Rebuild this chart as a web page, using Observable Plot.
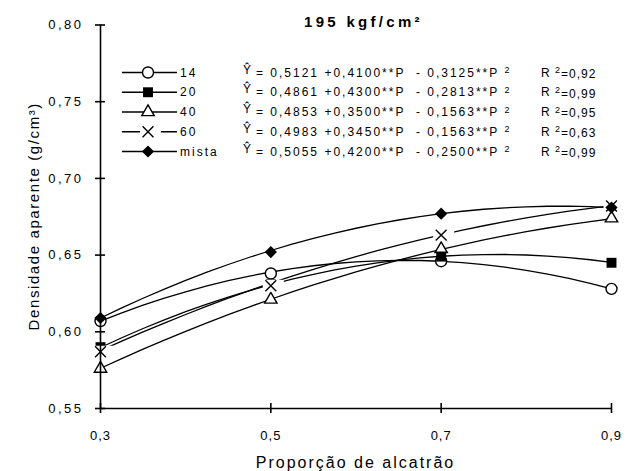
<!DOCTYPE html>
<html>
<head>
<meta charset="utf-8">
<script src="https://cdn.jsdelivr.net/npm/d3@7"></script>
<script src="https://cdn.jsdelivr.net/npm/@observablehq/plot@0.6"></script>
<style>
  body { margin: 0; background: #fff; }
  #chart svg { font-family: "Liberation Sans", Arial, sans-serif; }
  #chart svg [aria-label="y-axis tick label"] text { letter-spacing: 2.5px; }
  #chart svg [aria-label="x-axis tick label"] text { letter-spacing: 1px; }
</style>
</head>
<body>
<div id="chart"></div>
<script>
// Tar proportion (x) and the five binder groups
const proportions = [0.3, 0.5, 0.7, 0.9];
const groups = ["14", "20", "40", "60", "mista"];

// Apparent density (g/cm³) per group at each proportion
const dens14    = [0.607, 0.638, 0.646, 0.628];
const dens20    = [0.590, 0.631, 0.649, 0.645];
const dens40    = [0.576, 0.621, 0.654, 0.674];
const dens60    = [0.587, 0.630, 0.663, 0.682];
const densMista = [0.609, 0.652, 0.677, 0.681];

// Quadratic fits  Ŷ = b0 + b1·P − b2·P²  and their R²
const fitB0 = [0.5121, 0.4861, 0.4853, 0.4983, 0.5055];
const fitB1 = [0.4100, 0.4300, 0.3500, 0.3450, 0.4200];
const fitB2 = [0.3125, 0.2813, 0.1563, 0.1563, 0.2500];
const rSquared = [0.92, 0.99, 0.95, 0.63, 0.99];

// Axis ticks and texts
const xTicks = [0.3, 0.5, 0.7, 0.9];
const yTicks = [0.55, 0.60, 0.65, 0.70, 0.75, 0.80];
const titleText = "195 kgf/cm²";
const xLabel = "Proporção de alcatrão";
const yLabel = "Densidade aparente (g/cm³)";

const densities = [dens14, dens20, dens40, dens60, densMista];
const comma = (v, n) => v.toFixed(n).replace(".", ",");

// Observed points
const points = groups.flatMap((g, i) =>
  proportions.map((p, j) => ({group: g, p, d: densities[i][j]})));

// Fitted curves, traced from the printed equations
const curves = groups.flatMap((g, i) =>
  d3.range(0.3, 0.9001, 0.025).map(p =>
    ({group: g, p, d: fitB0[i] + fitB1[i] * p - fitB2[i] * p * p})));

const W = 644, H = 471;
const mL = 100, mR = 33, mT = 24.5, mB = 63;
const frameW = W - mL - mR, frameH = H - mT - mB;

// White patch drawn behind the "×" marker
const patch = {draw(ctx) { ctx.rect(-8, -6, 21, 12); }};

const markStyle = {
  "14":    {symbol: "circle",   r: 5.5, fill: "white", stroke: "black"},
  "20":    {symbol: "square",   r: 5.6, fill: "black", stroke: "none"},
  "40":    {symbol: "triangle", r: 4.6, fill: "white", stroke: "black"},
  "60":    {symbol: "times",    r: 5.0, fill: "none",  stroke: "black"},
  "mista": {symbol: "diamond2", r: 5.5, fill: "black", stroke: "none"}
};
const drawOrder = ["14", "40", "20", "60", "mista"];

const dotMarks = drawOrder.flatMap(g => {
  const s = markStyle[g];
  const rows = points.filter(d => d.group === g);
  const out = [];
  if (g === "60") out.push(Plot.dot(rows, {x: "p", y: "d", symbol: patch, r: 5, fill: "white", stroke: "none"}));
  out.push(Plot.dot(rows, {x: "p", y: "d", symbol: s.symbol, r: s.r, fill: s.fill, stroke: s.stroke, strokeWidth: 1.4}));
  return out;
});

const chart = Plot.plot({
  width: W,
  height: H,
  marginLeft: mL, marginRight: mR, marginTop: mT, marginBottom: mB,
  style: {fontSize: "13px", fontFamily: "Liberation Sans, Arial, sans-serif", color: "black", background: "white"},
  x: {domain: [0.3, 0.9], ticks: xTicks, tickFormat: d => comma(d, 1), tickSize: 5, tickPadding: 17, label: null},
  y: {domain: [0.55, 0.80], ticks: yTicks, tickFormat: d => comma(d, 2), tickSize: 5, tickPadding: 12, label: null},
  marks: [
    Plot.line(curves, {x: "p", y: "d", z: "group", stroke: "black", strokeWidth: 1.3}),
    ...dotMarks,
    // axis lines and inward tick halves
    Plot.ruleX([0.3], {stroke: "black", strokeWidth: 1.6}),
    Plot.ruleY([0.55], {stroke: "black", strokeWidth: 1.6}),
    Plot.tickX(xTicks, {x: d => d, insetTop: frameH - 5, stroke: "black", strokeWidth: 1.6}),
    Plot.tickY(yTicks, {y: d => d, insetRight: frameW - 5, stroke: "black", strokeWidth: 1.6})
  ]
});

const svg = d3.select(chart);

// Thicken the axis tick stubs drawn by Plot
svg.selectAll("[aria-label='x-axis tick'] path, [aria-label='y-axis tick'] path, [aria-label='x-axis tick'], [aria-label='y-axis tick']")
  .attr("stroke-width", 1.6);

const xs = chart.scale("x"), ys = chart.scale("y");
const midX = (xs.apply(0.3) + xs.apply(0.9)) / 2;
const midY = (ys.apply(0.55) + ys.apply(0.80)) / 2;

// Title, axis titles
svg.append("text").attr("x", midX + 8).attr("y", 27)
  .attr("text-anchor", "middle").attr("font-size", 15).attr("font-weight", "bold")
  .attr("letter-spacing", "3.3px").text(titleText);
svg.append("text").attr("transform", `translate(39,${midY}) rotate(-90)`)
  .attr("text-anchor", "middle").attr("font-size", 15).attr("letter-spacing", "1.6px").text(yLabel);
svg.append("text").attr("x", midX).attr("y", 468)
  .attr("text-anchor", "middle").attr("font-size", 16).attr("letter-spacing", "2px").text(xLabel);

// Legend with the fitted equations
const legend = svg.append("g").attr("font-size", 12).attr("fill", "black")
  .attr("text-anchor", "start").attr("letter-spacing", "2px");
const rowY0 = 72.5, rowStep = 19.75;
groups.forEach((g, i) => {
  const y = rowY0 + i * rowStep;
  const s = markStyle[g];
  const row = legend.append("g").attr("transform", `translate(0,${y})`);
  row.append("line").attr("x1", 122).attr("x2", 177).attr("y1", 0).attr("y2", 0)
    .attr("stroke", "black").attr("stroke-width", 1.3);
  const symType = {circle: d3.symbolCircle, square: d3.symbolSquare, triangle: d3.symbolTriangle,
                   times: d3.symbolTimes, diamond2: d3.symbolDiamond2}[s.symbol];
  if (g === "60") row.append("rect").attr("x", 148 - 8).attr("y", -6).attr("width", 21).attr("height", 12).attr("fill", "white");
  row.append("path").attr("transform", "translate(148,0)")
    .attr("d", d3.symbol(symType, Math.PI * s.r * s.r)())
    .attr("fill", s.fill).attr("stroke", s.stroke).attr("stroke-width", 1.4);
  row.append("text").attr("x", 180).attr("dy", "0.35em").text(g);
  row.append("text").attr("x", 243).attr("dy", "0.1em").text("Ŷ");
  const eq = row.append("text").attr("x", 256).attr("dy", "0.35em");
  eq.append("tspan").text(`= ${comma(fitB0[i], 4)} +${comma(fitB1[i], 4)}**P  - ${comma(fitB2[i], 4)}**P `);
  eq.append("tspan").attr("dy", "-0.4em").attr("font-size", 9).text("2");
  const r2 = row.append("text").attr("x", 541).attr("dy", "0.35em").attr("letter-spacing", "1px");
  r2.append("tspan").text("R ");
  r2.append("tspan").attr("dy", "-0.4em").attr("font-size", 9).text("2");
  r2.append("tspan").attr("dy", "0.4em").text(`=${comma(rSquared[i], 2)}`);
});

document.getElementById("chart").append(chart);
</script>
</body>
</html>
